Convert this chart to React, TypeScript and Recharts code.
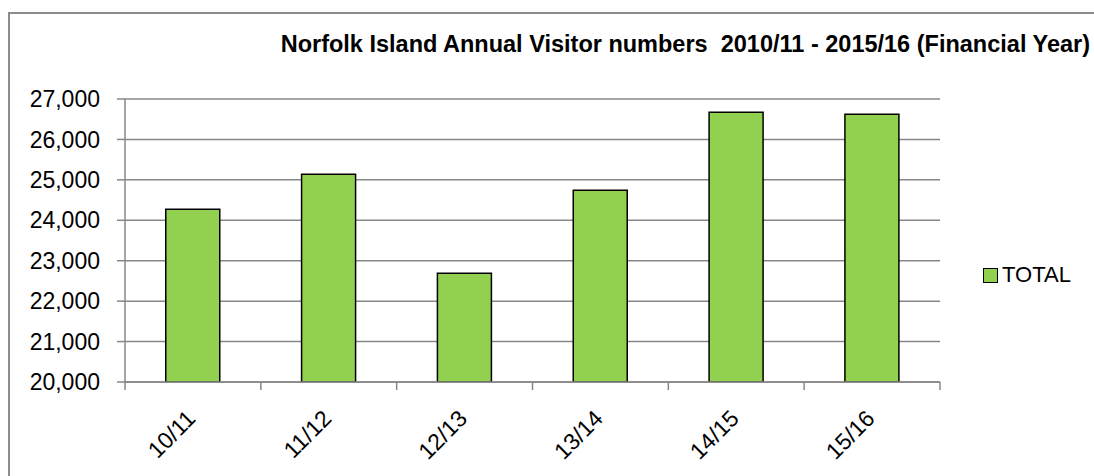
import * as React from 'react';
import { BarChart, Bar, XAxis, YAxis, CartesianGrid } from 'recharts';

const categories = ['10/11', '11/12', '12/13', '13/14', '14/15', '15/16'];
const totals = [24270, 25140, 22690, 24740, 26670, 26620];
const yTicks = [20000, 21000, 22000, 23000, 24000, 25000, 26000, 27000];
const seriesName = 'TOTAL';
const title = 'Norfolk Island Annual Visitor numbers\u00a0\u00a02010/11 - 2015/16 (Financial Year)';

const data = categories.map((c, i) => ({ name: c, TOTAL: totals[i] }));

const FONT = '"Liberation Sans", Arial, sans-serif';
const GRID = '#878787';

const fmt = (v: number) => v.toLocaleString('en-US');

// category label rotated, plus tick marks on the band edges like Excel
const XTick = (props: any) => {
    const { x, y, payload, index } = props;
    const half = payload && payload.offset ? payload.offset : 68;
    const last = index === categories.length - 1;
    const ax = x + 4;
    const ay = y + 30;
    return (
        <g>
            <line x1={x - half} y1={y - 8} x2={x - half} y2={y} stroke={GRID} strokeWidth={1.5} />
            {last && <line x1={x + half} y1={y - 8} x2={x + half} y2={y} stroke={GRID} strokeWidth={1.5} />}
            <text
                x={ax}
                y={ay}
                textAnchor="end"
                transform={`rotate(-45, ${ax}, ${ay})`}
                fontSize={23}
                fontFamily={FONT}
                fill="#000"
            >
                {payload.value}
            </text>
        </g>
    );
};

const App = () => {
    return (
        <div style={{ position: 'absolute', left: 0, top: 0, width: 1094, height: 476, background: '#fff' }}>
            <div
                style={{
                    position: 'absolute',
                    left: 8,
                    top: 12,
                    width: 1094 - 8,
                    height: 476 - 12,
                    borderLeft: '2px solid #8c8c8c',
                    borderTop: '2px solid #8c8c8c',
                    boxSizing: 'border-box',
                }}
            />
            <div
                style={{
                    position: 'absolute',
                    right: 4,
                    top: 30,
                    fontFamily: FONT,
                    fontWeight: 'bold',
                    fontSize: 23.5,
                    whiteSpace: 'nowrap',
                    lineHeight: '28px',
                    color: '#000',
                }}
            >
                {title}
            </div>
            <div
                style={{
                    position: 'absolute',
                    left: 983,
                    top: 262,
                    display: 'flex',
                    alignItems: 'center',
                    fontFamily: FONT,
                    fontSize: 22,
                    color: '#000',
                }}
            >
                <span
                    style={{
                        display: 'inline-block',
                        width: 13,
                        height: 13,
                        background: '#92D050',
                        border: '1.5px solid #000',
                        marginRight: 4,
                    }}
                />
                <span>{seriesName}</span>
            </div>
            <div style={{ position: 'absolute', left: 0, top: 0 }}>
                <BarChart
                    width={1094}
                    height={476}
                    data={data}
                    margin={{ top: 99, right: 154, left: 0, bottom: 0 }}
                    barCategoryGap="30%"
                >
                    <CartesianGrid vertical={false} stroke={GRID} strokeWidth={1.5} />
                    <XAxis
                        dataKey="name"
                        tickLine={false}
                        axisLine={{ stroke: GRID, strokeWidth: 1.5 }}
                        tick={<XTick />}
                        interval={0}
                        height={94}
                    />
                    <YAxis
                        width={125}
                        domain={[20000, 27000]}
                        ticks={yTicks}
                        interval={0}
                        allowDataOverflow
                        tickFormatter={fmt}
                        tickSize={8}
                        tickMargin={17}
                        tickLine={{ stroke: GRID, strokeWidth: 1.5 }}
                        axisLine={{ stroke: GRID, strokeWidth: 1.5 }}
                        tick={{ fill: '#000', fontSize: 23, fontFamily: FONT }}
                    />
                    <Bar
                        dataKey="TOTAL"
                        name={seriesName}
                        fill="#92D050"
                        stroke="#000"
                        strokeWidth={1.5}
                        isAnimationActive={false}
                    />
                </BarChart>
            </div>
        </div>
    );
};

export default App;
